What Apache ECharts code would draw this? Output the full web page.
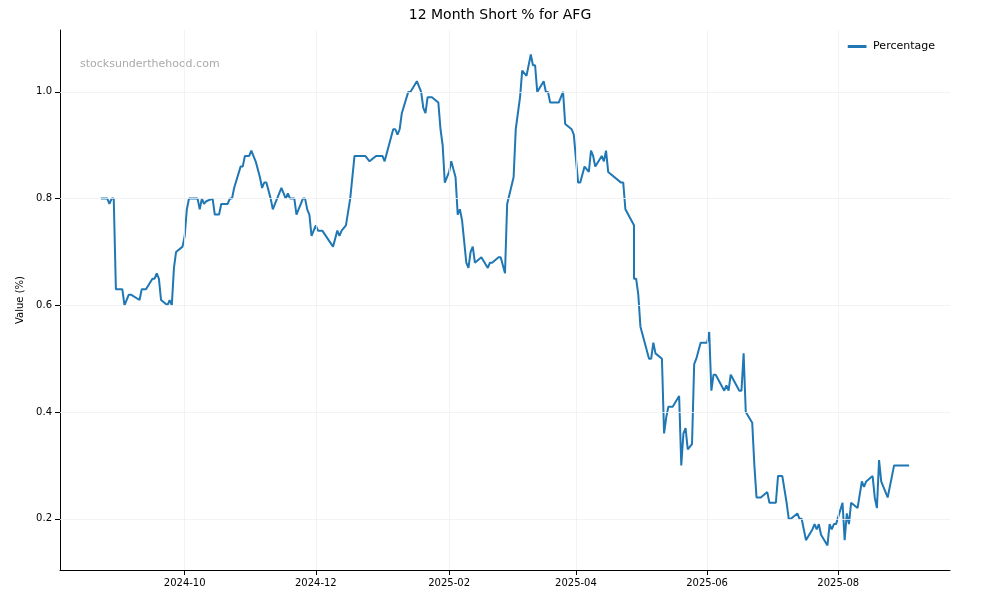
<!DOCTYPE html>
<html><head><meta charset="utf-8">
<script src="https://cdn.jsdelivr.net/npm/echarts@6/dist/echarts.min.js"></script>
<style>html,body{margin:0;padding:0;background:#fff}#c{width:1000px;height:600px}</style>
</head><body><div id="c"></div>
<script>
// days since 2024-10-01
const dayOffsets=[-39,-36,-35,-34,-33,-32,-29,-28,-26,-25,-21,-20,-18,-15,-14,-13,-12,-11,-8,-7,-6,-5,-4,-1,0,1,2,6,7,8,9,10,13,14,16,17,20,21,22,23,26,27,28,30,31,33,35,36,37,38,40,41,42,45,47,48,49,51,52,55,56,57,58,59,61,62,64,69,71,72,73,75,77,79,84,86,89,92,93,95,97,98,99,100,101,104,105,108,110,111,112,113,115,118,119,120,121,123,124,126,127,128,129,131,132,133,134,135,138,141,142,143,146,147,149,150,153,154,156,157,159,161,162,163,164,167,168,169,170,174,176,177,180,181,183,184,186,188,189,190,191,194,195,196,197,203,204,205,209,209,210,211,212,216,217,218,219,222,223,224,225,227,230,231,232,233,234,236,237,238,240,243,244,245,246,247,251,252,253,254,258,259,260,261,264,265,266,268,271,272,275,276,278,280,281,282,285,286,287,289,292,293,294,295,296,299,300,301,302,303,306,307,308,309,310,313,315,316,317,320,321,322,323,324,327,330,337];
const percentage=[0.80,0.80,0.79,0.80,0.80,0.63,0.63,0.60,0.62,0.62,0.61,0.63,0.63,0.65,0.65,0.66,0.65,0.61,0.60,0.61,0.60,0.67,0.70,0.71,0.73,0.78,0.80,0.80,0.78,0.80,0.79,0.795,0.80,0.77,0.77,0.79,0.79,0.80,0.80,0.82,0.86,0.86,0.88,0.88,0.89,0.87,0.84,0.82,0.83,0.83,0.80,0.78,0.79,0.82,0.80,0.81,0.80,0.80,0.77,0.80,0.80,0.78,0.77,0.73,0.75,0.74,0.74,0.71,0.74,0.73,0.74,0.75,0.80,0.88,0.88,0.87,0.88,0.88,0.87,0.90,0.93,0.93,0.92,0.93,0.96,1.00,1.00,1.02,1.00,0.97,0.96,0.99,0.99,0.98,0.93,0.90,0.83,0.85,0.87,0.84,0.77,0.78,0.76,0.68,0.67,0.70,0.71,0.68,0.69,0.67,0.68,0.68,0.69,0.69,0.66,0.79,0.84,0.93,0.99,1.04,1.03,1.07,1.05,1.05,1.00,1.02,1.00,1.00,0.98,0.98,1.00,0.94,0.93,0.92,0.83,0.83,0.86,0.85,0.89,0.88,0.86,0.88,0.87,0.89,0.85,0.83,0.83,0.78,0.75,0.65,0.65,0.62,0.56,0.50,0.50,0.53,0.51,0.50,0.36,0.39,0.41,0.41,0.43,0.30,0.36,0.37,0.33,0.34,0.49,0.50,0.53,0.53,0.55,0.44,0.47,0.47,0.44,0.45,0.44,0.47,0.44,0.44,0.51,0.40,0.38,0.30,0.24,0.24,0.25,0.23,0.23,0.28,0.28,0.23,0.20,0.20,0.21,0.20,0.20,0.16,0.18,0.19,0.18,0.19,0.17,0.15,0.19,0.18,0.19,0.19,0.23,0.16,0.21,0.19,0.23,0.22,0.27,0.26,0.27,0.28,0.24,0.22,0.31,0.27,0.24,0.30,0.30];
const xTicks=[[2024,9],[2024,11],[2025,1],[2025,3],[2025,5],[2025,7]];
const yTicks=[0.2,0.4,0.6,0.8,1.0];
const DAY=86400000;
const base=Date.UTC(2024,9,1);
const data=dayOffsets.map((d,i)=>[base+d*DAY,percentage[i]]);
const xt=xTicks.map(([y,m])=>Date.UTC(y,m,1));
const grid={color:'#f0f0f0',width:0.8,type:'solid'};
const chart=echarts.init(document.getElementById('c'));
chart.setOption({
  animation:false,
  title:{text:'12 Month Short % for AFG',left:'center',top:3,textStyle:{fontSize:14,fontWeight:'normal',color:'#000',fontFamily:'DejaVu Sans'}},
  legend:{right:60,top:36,icon:'path://M0,0h10v1.6h-10z',itemWidth:22,itemHeight:3,textStyle:{fontSize:11,color:'#000',fontFamily:'DejaVu Sans'},data:['Percentage']},
  grid:{left:60,right:50,top:30,bottom:30},
  graphic:[{type:'text',left:80,top:59,style:{text:'stocksunderthehood.com',fill:'#aaa',fontSize:11,fontFamily:'DejaVu Sans'}}],
  xAxis:{type:'value',min:Date.UTC(2024,7,4),max:Date.UTC(2025,8,22),
    axisLine:{lineStyle:{color:'#000'}},splitLine:{show:false},
    axisTick:{customValues:xt,lineStyle:{color:'#000'}},
    axisLabel:{customValues:xt,color:'#000',fontSize:10,fontFamily:'DejaVu Sans',
      formatter:v=>{const d=new Date(v);return d.getUTCFullYear()+'-'+String(d.getUTCMonth()+1).padStart(2,'0');}}},
  yAxis:{type:'value',min:0.104,max:1.116,name:'Value (%)',nameLocation:'middle',nameGap:34,
    nameTextStyle:{fontSize:10,color:'#000',fontFamily:'DejaVu Sans'},
    axisLine:{show:true,lineStyle:{color:'#000'}},splitLine:{show:false},
    axisTick:{show:true,customValues:yTicks,lineStyle:{color:'#000'}},
    axisLabel:{customValues:yTicks,color:'#000',fontSize:10,fontFamily:'DejaVu Sans',formatter:v=>v.toFixed(1)}},
  series:[{name:'Percentage',type:'line',data:data,showSymbol:false,lineStyle:{color:'#1f77b4',width:2},itemStyle:{color:'#1f77b4'},
    markLine:{silent:true,symbol:'none',label:{show:false},lineStyle:grid,animation:false,
      data:xt.map(t=>({xAxis:t})).concat(yTicks.map(v=>({yAxis:v})))}}]
});
</script></body></html>
